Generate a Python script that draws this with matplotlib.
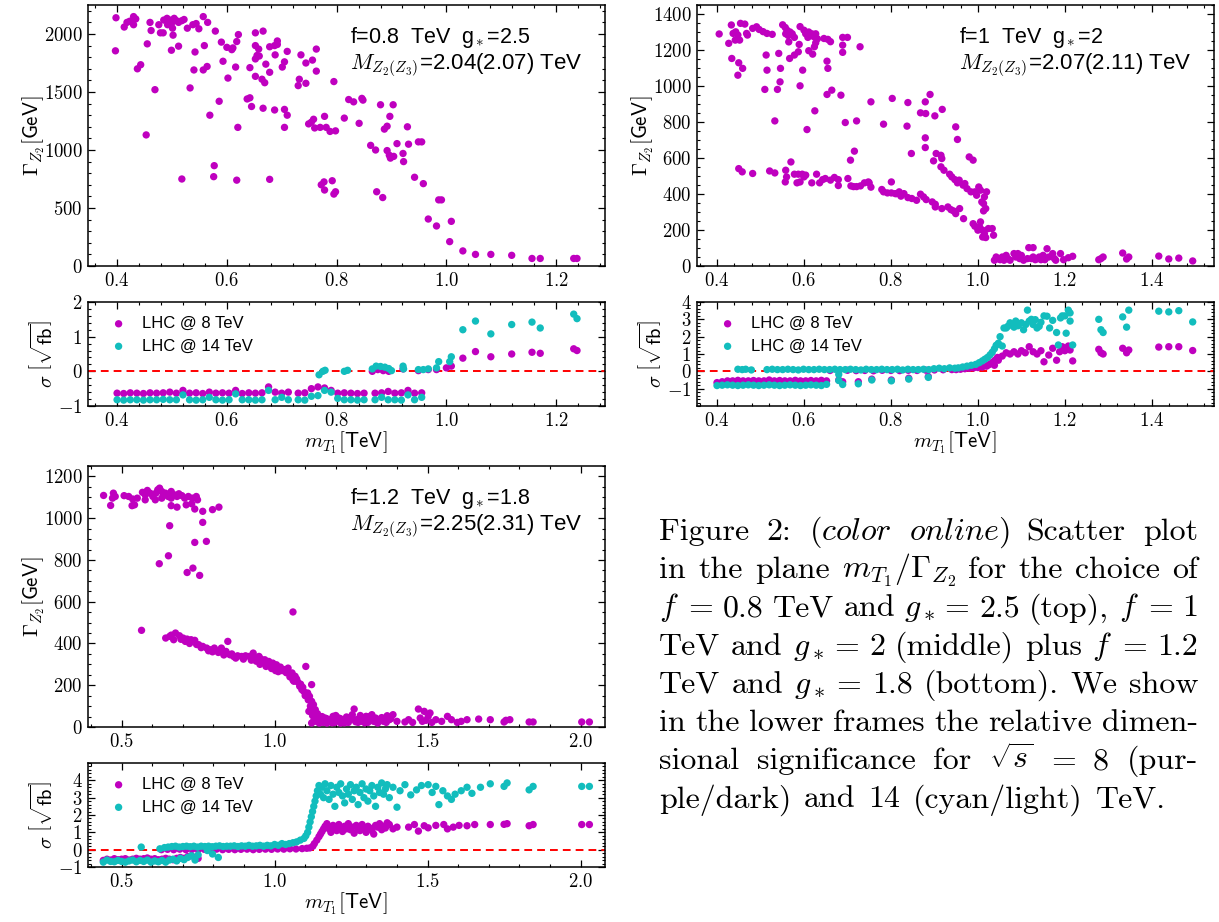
import numpy as np
import matplotlib
matplotlib.use("Agg")
import matplotlib.pyplot as plt
from matplotlib.ticker import MultipleLocator, FixedLocator, FuncFormatter

plt.rcParams['font.family'] = 'cmr10'
plt.rcParams['mathtext.fontset'] = 'cm'
plt.rcParams['axes.formatter.use_mathtext'] = True

PURPLE = '#bf00bf'
CYAN = '#12bdbd'
SANS = 'Liberation Sans'

# ---------------- data: (m_T1 [TeV], value) ----------------
# top left: f=0.8 TeV, g*=2.5
p1_width = [
    (0.398, 2140), (0.397, 1855), (0.413, 2060), (0.418, 2100), (0.423, 2110), (0.430, 2150), (0.434, 2130), (0.430, 2080),
    (0.437, 1700), (0.443, 1735), (0.455, 1915), (0.460, 2100), (0.462, 2030), (0.453, 1130), (0.469, 1520), (0.476, 2080),
    (0.479, 2010), (0.485, 2120), (0.491, 2135), (0.496, 2120), (0.499, 2090), (0.504, 2135), (0.508, 2115), (0.512, 2100),
    (0.492, 2080), (0.501, 2050), (0.518, 2115), (0.522, 2125), (0.484, 2010), (0.502, 1990), (0.499, 1860), (0.512, 1895),
    (0.518, 750), (0.528, 2050), (0.538, 2080), (0.544, 2090), (0.549, 2045), (0.533, 1535), (0.540, 1690), (0.542, 1845),
    (0.557, 2150), (0.565, 2100), (0.559, 1900), (0.557, 1690), (0.564, 1720), (0.569, 1300), (0.579, 2025), (0.577, 865),
    (0.576, 770), (0.586, 1420), (0.590, 1930), (0.593, 1765), (0.600, 1885), (0.611, 1880), (0.618, 1935), (0.621, 1995),
    (0.609, 1865), (0.602, 1620), (0.616, 1715), (0.618, 740), (0.620, 1195), (0.642, 1710), (0.637, 1440), (0.642, 1450),
    (0.645, 1375), (0.652, 2010), (0.652, 1900), (0.655, 1815), (0.652, 1785), (0.659, 1810), (0.652, 1635), (0.658, 1870),
    (0.664, 1610), (0.669, 1580), (0.666, 1360), (0.666, 2025), (0.671, 1740), (0.678, 1670), (0.678, 1890), (0.687, 1900),
    (0.692, 1940), (0.692, 1910), (0.688, 1820), (0.687, 1345), (0.678, 747), (0.701, 1715), (0.705, 1760), (0.705, 1350),
    (0.710, 1300), (0.705, 1195), (0.710, 1850), (0.730, 1555), (0.732, 1610), (0.735, 1820), (0.744, 1750), (0.744, 1575),
    (0.756, 1775), (0.763, 1870), (0.763, 1680), (0.749, 1225), (0.754, 1240), (0.760, 1190), (0.758, 1265), (0.770, 1195),
    (0.778, 1290), (0.781, 1195), (0.788, 1160), (0.798, 1165), (0.795, 1590), (0.772, 700), (0.777, 725), (0.778, 655),
    (0.792, 735), (0.795, 620), (0.798, 640), (0.814, 1275), (0.822, 1435), (0.831, 1415), (0.846, 1445), (0.848, 1430),
    (0.841, 1230), (0.862, 1040), (0.871, 1000), (0.880, 1390), (0.873, 640), (0.884, 590), (0.887, 1180), (0.892, 1205),
    (0.897, 1290), (0.903, 1390), (0.892, 995), (0.896, 955), (0.898, 930), (0.904, 945), (0.910, 1055), (0.921, 970),
    (0.922, 900), (0.929, 1200), (0.931, 1050), (0.942, 765), (0.949, 1070), (0.955, 1070), (0.958, 710), (0.967, 405),
    (0.982, 345), (0.986, 570), (0.991, 570), (1.009, 385), (1.006, 210), (1.030, 130), (1.053, 100), (1.081, 100),
    (1.119, 92), (1.156, 65), (1.171, 65), (1.232, 65), (1.238, 65),
]
p1_sig8 = [
    (0.400, -0.63), (0.412, -0.64), (0.424, -0.62), (0.436, -0.63), (0.448, -0.64), (0.460, -0.62), (0.472, -0.63),
    (0.484, -0.62), (0.496, -0.60), (0.508, -0.63), (0.520, -0.55), (0.532, -0.63), (0.544, -0.62), (0.556, -0.64),
    (0.568, -0.60), (0.580, -0.63), (0.592, -0.62), (0.604, -0.63), (0.616, -0.55), (0.628, -0.64), (0.640, -0.62),
    (0.652, -0.63), (0.664, -0.62), (0.676, -0.45), (0.688, -0.60), (0.700, -0.63), (0.712, -0.60),
    (0.730, -0.63), (0.742, -0.62), (0.754, -0.50), (0.766, -0.45), (0.778, -0.48), (0.790, -0.55), (0.802, -0.63),
    (0.814, -0.62), (0.826, -0.63), (0.838, -0.64), (0.850, -0.63),
    (0.870, -0.63), (0.882, -0.62), (0.894, -0.58), (0.906, -0.63), (0.918, -0.62), (0.930, -0.55), (0.942, -0.63),
    (0.955, -0.62),
    (0.865, 0.00), (0.875, 0.05), (0.885, 0.02), (0.895, 0.00), (0.921, 0.07), (0.949, 0.02), (0.967, 0.05),
    (0.982, 0.05), (1.000, 0.10), (1.009, 0.15),
    (1.030, 0.38), (1.053, 0.57), (1.081, 0.42), (1.119, 0.50), (1.156, 0.55), (1.171, 0.52), (1.232, 0.65), (1.238, 0.60),
]
p1_sig14 = [
    (0.400, -0.82), (0.412, -0.83), (0.424, -0.82), (0.436, -0.82), (0.448, -0.83), (0.460, -0.82), (0.472, -0.82),
    (0.484, -0.81), (0.496, -0.82), (0.508, -0.82), (0.520, -0.68), (0.532, -0.82), (0.544, -0.83), (0.556, -0.82),
    (0.568, -0.75), (0.580, -0.82), (0.592, -0.83), (0.604, -0.82), (0.616, -0.65), (0.628, -0.82), (0.640, -0.82),
    (0.652, -0.83), (0.664, -0.82), (0.676, -0.55), (0.688, -0.82), (0.700, -0.75), (0.712, -0.82),
    (0.730, -0.82), (0.742, -0.83), (0.754, -0.72), (0.766, -0.70), (0.778, -0.55), (0.790, -0.60), (0.802, -0.78),
    (0.814, -0.82), (0.826, -0.82), (0.838, -0.83), (0.850, -0.82),
    (0.870, -0.82), (0.882, -0.75), (0.894, -0.82), (0.906, -0.82), (0.918, -0.83), (0.930, -0.68), (0.942, -0.82),
    (0.955, -0.75),
    (0.768, -0.10), (0.775, 0.00), (0.779, 0.03), (0.814, 0.00), (0.820, 0.03), (0.865, 0.07), (0.872, 0.15),
    (0.880, 0.14), (0.888, 0.12), (0.895, 0.08), (0.900, 0.02), (0.921, 0.15), (0.922, 0.07), (0.949, 0.05),
    (0.958, 0.05), (0.967, 0.07), (0.982, 0.10), (0.986, 0.28), (1.006, 0.28), (1.009, 0.42),
    (1.030, 1.20), (1.053, 1.45), (1.081, 1.08), (1.119, 1.35), (1.156, 1.42), (1.171, 1.25), (1.232, 1.65), (1.238, 1.52),
]

# top right: f=1 TeV, g*=2
p2_width = [
    (0.405, 1289), (0.427, 1237), (0.433, 1339), (0.437, 1292), (0.443, 1301), (0.442, 1255), (0.434, 1153), (0.448, 1283),
    (0.454, 1348), (0.464, 1344), (0.452, 1255), (0.450, 1129), (0.459, 1098), (0.448, 1060), (0.468, 1292), (0.470, 1283),
    (0.482, 1320), (0.491, 1329), (0.497, 1314), (0.506, 1302), (0.515, 1292), (0.527, 1287), (0.510, 981), (0.515, 1088),
    (0.513, 1172), (0.542, 1181), (0.546, 1098), (0.539, 981), (0.545, 1023), (0.533, 806),
    (0.551, 1340), (0.557, 1325), (0.561, 1310), (0.558, 1290), (0.564, 1280), (0.568, 1300), (0.573, 1290), (0.565, 1245),
    (0.578, 1270), (0.567, 1153), (0.578, 1172), (0.587, 1190), (0.589, 1231), (0.591, 1330), (0.600, 1310), (0.604, 1290),
    (0.611, 1300), (0.618, 1290), (0.622, 1275), (0.627, 1290), (0.631, 1262), (0.609, 1270), (0.627, 1240), (0.597, 1088),
    (0.591, 1001), (0.611, 1196), (0.620, 1177), (0.624, 1218), (0.625, 862), (0.607, 758), (0.646, 1264), (0.655, 1259),
    (0.661, 1246), (0.653, 1138), (0.655, 1098), (0.653, 953), (0.664, 977), (0.685, 949), (0.689, 1270), (0.700, 1270),
    (0.689, 1227), (0.689, 1187), (0.695, 797), (0.721, 806), (0.729, 1218), (0.716, 638), (0.707, 588), (0.754, 912),
    (0.803, 931), (0.839, 908), (0.837, 777), (0.783, 788), (0.847, 625), (0.879, 912), (0.890, 953), (0.880, 847),
    (0.901, 834), (0.918, 870), (0.868, 851), (0.879, 712), (0.879, 658), (0.949, 773), (0.953, 703), (0.904, 625),
    (0.915, 615), (0.917, 597), (0.898, 584), (0.980, 606), (0.989, 588),
    (0.450, 541), (0.458, 523), (0.482, 514), (0.521, 528), (0.533, 517), (0.558, 532), (0.560, 495), (0.557, 467),
    (0.570, 578), (0.578, 510), (0.587, 510), (0.596, 510), (0.600, 495), (0.584, 462), (0.591, 467), (0.604, 505),
    (0.618, 462), (0.629, 510), (0.636, 462), (0.643, 480), (0.649, 486), (0.661, 477), (0.670, 492), (0.679, 480),
    (0.679, 447), (0.701, 486), (0.708, 445), (0.714, 441), (0.721, 441), (0.730, 445), (0.739, 462), (0.748, 467),
    (0.754, 438), (0.750, 462), (0.779, 425), (0.783, 412), (0.792, 406), (0.801, 406), (0.810, 402), (0.819, 412),
    (0.801, 467), (0.813, 402), (0.823, 388), (0.830, 402), (0.839, 380), (0.848, 375), (0.859, 365), (0.868, 399),
    (0.875, 384), (0.881, 369), (0.895, 356), (0.902, 343), (0.902, 328), (0.917, 319), (0.931, 328), (0.938, 313),
    (0.944, 306), (0.949, 291), (0.958, 319), (0.967, 263), (0.989, 235), (0.993, 221), (1.000, 199), (1.004, 217),
    (1.011, 199), (1.006, 245), (1.015, 180), (1.018, 158), (1.011, 161), (1.024, 208), (1.033, 208), (1.036, 171),
    (0.915, 551), (0.922, 532), (0.935, 510), (0.940, 495), (0.947, 480), (0.953, 462), (0.957, 477), (0.966, 449),
    (0.970, 458), (0.975, 430), (0.984, 412), (0.993, 412), (0.997, 393), (1.002, 439), (1.006, 421), (1.015, 384),
    (1.020, 412), (1.009, 356), (1.013, 347), (1.018, 319), (1.013, 306),
    (1.038, 32), (1.042, 50), (1.045, 41), (1.051, 35), (1.056, 50), (1.060, 32), (1.065, 59), (1.069, 41),
    (1.074, 32), (1.083, 69), (1.087, 50), (1.092, 69), (1.096, 41), (1.100, 59), (1.105, 32), (1.114, 41),
    (1.117, 102), (1.123, 41), (1.127, 50), (1.132, 35), (1.136, 41), (1.141, 50), (1.145, 35), (1.127, 102),
    (1.150, 59), (1.154, 35), (1.159, 96), (1.163, 50), (1.172, 69), (1.176, 41), (1.179, 32), (1.190, 69),
    (1.197, 35), (1.208, 46), (1.218, 54), (1.278, 35), (1.283, 41), (1.288, 50), (1.333, 72), (1.342, 39),
    (1.347, 50), (1.416, 55), (1.439, 39), (1.462, 44), (1.494, 28),
]
p2_sig8 = [
    (0.400, -0.65), (0.412, -0.60), (0.424, -0.55), (0.436, -0.55), (0.448, -0.52), (0.460, -0.55), (0.472, -0.55),
    (0.484, -0.53), (0.496, -0.55), (0.508, -0.55), (0.520, -0.50), (0.532, -0.55), (0.544, -0.53), (0.556, -0.55),
    (0.568, -0.55), (0.580, -0.52), (0.592, -0.55), (0.604, -0.55), (0.616, -0.53), (0.628, -0.55), (0.640, -0.52),
    (0.652, -0.55),
    (0.680, -0.50), (0.689, -0.60), (0.725, -0.60), (0.756, -0.45), (0.801, -0.50), (0.841, -0.40), (0.886, -0.30),
    (0.66, 0.05), (0.68, 0.03), (0.70, 0.06), (0.72, 0.04), (0.74, 0.05), (0.76, 0.03), (0.78, 0.06), (0.80, 0.05),
    (0.82, 0.04), (0.84, 0.06), (0.86, 0.05), (0.88, 0.07), (0.90, 0.08), (0.92, 0.09), (0.94, 0.10),
    (0.95, 0.10), (0.96, 0.12), (0.97, 0.15), (0.98, 0.18), (0.99, 0.20), (1.00, 0.22), (1.01, 0.25), (1.02, 0.30),
    (1.025, 0.38), (1.03, 0.45), (1.038, 0.35), (1.035, 0.55), (1.04, 0.65), (1.047, 0.64), (1.045, 0.80),
    (1.056, 0.88), (1.065, 1.07), (1.074, 1.00), (1.083, 1.13), (1.092, 1.00), (1.100, 1.19), (1.109, 1.07),
    (1.118, 1.42), (1.127, 1.13), (1.136, 1.00), (1.145, 1.19), (1.152, 0.55), (1.163, 0.94), (1.172, 1.33),
    (1.181, 0.64), (1.188, 1.13), (1.194, 1.42), (1.200, 1.19), (1.208, 1.46), (1.212, 1.23), (1.218, 0.60),
    (1.278, 1.27), (1.283, 1.07), (1.288, 1.00), (1.333, 1.33), (1.342, 1.07), (1.347, 1.23), (1.416, 1.40),
    (1.439, 1.42), (1.462, 1.42), (1.494, 1.20),
]
p2_sig14 = [
    (0.400, -0.82), (0.412, -0.80), (0.424, -0.78), (0.436, -0.80), (0.448, -0.82), (0.460, -0.80), (0.472, -0.78),
    (0.484, -0.80), (0.496, -0.82), (0.508, -0.80), (0.520, -0.78), (0.532, -0.80), (0.544, -0.82), (0.556, -0.80),
    (0.568, -0.78), (0.580, -0.80), (0.592, -0.82), (0.604, -0.80), (0.616, -0.78), (0.628, -0.80), (0.640, -0.82),
    (0.652, -0.75),
    (0.680, -0.53), (0.689, -0.76), (0.725, -0.72), (0.756, -0.50), (0.801, -0.55), (0.841, -0.45), (0.886, -0.35),
    (0.680, -0.18),
    (0.448, 0.12), (0.458, 0.10), (0.466, 0.12), (0.479, 0.08), (0.515, 0.10), (0.527, 0.12), (0.539, 0.10),
    (0.551, 0.10), (0.563, 0.12), (0.575, 0.10), (0.587, 0.08), (0.599, 0.12), (0.611, 0.10), (0.623, 0.10),
    (0.635, 0.12), (0.647, 0.10), (0.659, 0.10), (0.671, 0.12), (0.683, 0.10), (0.695, 0.10), (0.707, 0.12),
    (0.719, 0.10), (0.731, 0.08), (0.743, 0.12), (0.755, 0.10), (0.767, 0.10), (0.779, 0.12), (0.791, 0.10),
    (0.803, 0.10), (0.815, 0.12), (0.827, 0.08), (0.839, 0.12), (0.851, 0.10), (0.863, 0.10), (0.875, 0.12),
    (0.887, 0.10), (0.899, 0.15), (0.911, 0.18), (0.923, 0.15), (0.935, 0.20), (0.947, 0.18),
    (0.955, 0.20), (0.965, 0.25), (0.975, 0.30), (0.985, 0.35), (0.995, 0.40), (1.003, 0.50), (1.010, 0.60),
    (1.016, 0.70), (1.022, 0.80), (1.028, 0.95), (1.033, 1.10), (1.038, 1.30), (1.042, 1.50),
    (1.047, 1.62), (1.051, 2.00), (1.056, 1.46), (1.060, 2.50), (1.065, 2.50), (1.069, 2.60), (1.074, 2.80),
    (1.078, 2.70), (1.083, 2.55), (1.087, 2.90), (1.092, 2.63), (1.096, 2.75), (1.100, 2.80), (1.105, 2.40),
    (1.110, 2.70), (1.114, 3.53), (1.118, 2.90), (1.123, 3.00), (1.127, 2.70), (1.132, 2.98), (1.136, 2.50),
    (1.141, 2.60), (1.145, 2.83), (1.152, 3.20), (1.159, 3.18), (1.165, 2.50), (1.172, 2.94), (1.181, 2.24),
    (1.185, 1.52), (1.190, 3.08), (1.194, 3.20), (1.200, 3.20), (1.203, 2.20), (1.208, 3.53), (1.212, 3.37),
    (1.212, 2.90), (1.218, 1.52), (1.278, 3.00), (1.283, 2.40), (1.288, 2.24), (1.333, 3.14), (1.342, 2.55),
    (1.347, 3.53), (1.416, 3.47), (1.439, 3.43), (1.462, 3.50), (1.494, 2.85),
]

# bottom left: f=1.2 TeV, g*=1.8
p3_width = [
    (0.441, 1109), (0.464, 1061), (0.473, 1120), (0.479, 1104), (0.470, 1096), (0.508, 1108), (0.523, 1104), (0.536, 1092),
    (0.551, 1096), (0.534, 1060), (0.542, 1064), (0.568, 1124), (0.577, 1112), (0.584, 1133), (0.593, 1120), (0.602, 1104),
    (0.612, 1120), (0.618, 1136), (0.624, 1144), (0.631, 1128), (0.637, 1112), (0.643, 1120), (0.652, 1104), (0.662, 1128),
    (0.672, 1112), (0.681, 1104), (0.687, 1117), (0.697, 1108), (0.706, 1096), (0.718, 1104), (0.731, 1096), (0.744, 1104),
    (0.748, 1088), (0.577, 1088), (0.610, 1088), (0.631, 1096), (0.662, 1096), (0.662, 1060), (0.681, 1053), (0.729, 1069),
    (0.739, 1044), (0.765, 1033), (0.797, 1041), (0.818, 1053), (0.711, 1064), (0.657, 964), (0.765, 980), (0.739, 884),
    (0.777, 889), (0.653, 820), (0.623, 782), (0.733, 761), (0.714, 740), (0.755, 726), (1.060, 551), (0.565, 463),
    (0.644, 426), (0.657, 434), (0.676, 450), (0.670, 418), (0.689, 437), (0.701, 426), (0.714, 421), (0.727, 418),
    (0.739, 415), (0.752, 394), (0.765, 386), (0.778, 378), (0.790, 370), (0.803, 378), (0.816, 357), (0.826, 378),
    (0.841, 362), (0.847, 410), (0.854, 346), (0.866, 338), (0.879, 341), (0.892, 338), (0.905, 341), (0.917, 338),
    (0.930, 354), (0.936, 330), (0.943, 322), (0.949, 338), (0.955, 326), (0.962, 314), (0.968, 322), (0.981, 314),
    (0.994, 306), (1.000, 290), (1.006, 298), (1.019, 287), (1.032, 275), (1.044, 282), (1.057, 259), (1.063, 219),
    (1.067, 243), (1.072, 230), (1.082, 195), (1.089, 179), (1.095, 171), (1.102, 290), (1.108, 163), (1.114, 147),
    (1.121, 203), (1.121, 123), (1.127, 107), (1.133, 83), (1.140, 64), (1.146, 43),
    (0.662, 440), (0.694, 420), (0.708, 410), (0.722, 400), (0.745, 395), (0.760, 380), (0.784, 365), (0.797, 360),
    (0.821, 365), (0.834, 345), (0.860, 350), (0.873, 330), (0.898, 325), (0.924, 320), (0.940, 315), (0.952, 300),
    (0.972, 290), (0.985, 300), (0.990, 280), (1.003, 270), (1.012, 265), (1.025, 270), (1.038, 260), (1.050, 240),
    (1.060, 225), (1.076, 215), (1.085, 205), (1.092, 190), (1.100, 150), (1.110, 130), (1.117, 100), (1.130, 60),
    (1.124, 55), (1.112, 75), (1.136, 40), (1.118, 85),
    (1.121, 19), (1.127, 27), (1.136, 35), (1.146, 19), (1.152, 32), (1.159, 22), (1.165, 43), (1.171, 19),
    (1.178, 35), (1.184, 27), (1.191, 51), (1.197, 22), (1.203, 35), (1.210, 43), (1.216, 19), (1.222, 35),
    (1.229, 27), (1.235, 48), (1.241, 22), (1.248, 35), (1.254, 59), (1.260, 86), (1.267, 35), (1.273, 22),
    (1.279, 43), (1.286, 27), (1.292, 32), (1.299, 51), (1.305, 22), (1.311, 35), (1.318, 59), (1.324, 27),
    (1.330, 43), (1.337, 19), (1.343, 35), (1.356, 27), (1.362, 43), (1.368, 54), (1.375, 35), (1.387, 59),
    (1.400, 27), (1.426, 24), (1.438, 35), (1.451, 22), (1.470, 86), (1.476, 43), (1.483, 27), (1.489, 75),
    (1.495, 32), (1.502, 51), (1.508, 67), (1.514, 22), (1.527, 35), (1.546, 27), (1.565, 51), (1.578, 35),
    (1.597, 22), (1.610, 27), (1.629, 35), (1.667, 38), (1.705, 35), (1.750, 24), (1.756, 32), (1.769, 35),
    (1.832, 24), (1.845, 24), (2.004, 24), (2.029, 24),
    (1.130, 45), (1.140, 25), (1.155, 50), (1.170, 40), (1.188, 20), (1.200, 55), (1.215, 40), (1.228, 20),
    (1.245, 45), (1.265, 25), (1.280, 55), (1.295, 20), (1.310, 50), (1.330, 25), (1.350, 45), (1.365, 22),
    (1.380, 40),
]
p3_sig8 = [
    (0.440, -0.62), (0.452, -0.55), (0.464, -0.60), (0.476, -0.52), (0.488, -0.58), (0.500, -0.55), (0.512, -0.52),
    (0.524, -0.60), (0.536, -0.55), (0.548, -0.50), (0.560, -0.55), (0.572, -0.52), (0.584, -0.48), (0.596, -0.55),
    (0.608, -0.52), (0.620, -0.58), (0.632, -0.55), (0.644, -0.50), (0.656, -0.55), (0.668, -0.58), (0.680, -0.50),
    (0.692, -0.45), (0.704, -0.50), (0.716, -0.40), (0.728, -0.35), (0.740, -0.45), (0.750, -0.50),
    (0.630, 0.00), (0.650, 0.02), (0.670, 0.00), (0.690, 0.03), (0.710, 0.00), (0.730, 0.02), (0.750, 0.00),
    (0.770, 0.02), (0.790, 0.00), (0.810, 0.03), (0.830, 0.00), (0.850, 0.02), (0.870, 0.00), (0.890, 0.02),
    (0.910, 0.03), (0.930, 0.00), (0.950, 0.02), (0.970, 0.03), (0.990, 0.02), (1.010, 0.04), (1.030, 0.03),
    (1.050, 0.05), (1.070, 0.04), (1.090, 0.06), (1.105, 0.08),
    (1.115, 0.10), (1.125, 0.20), (1.130, 0.35), (1.138, 0.55), (1.145, 0.75), (1.150, 0.90), (1.155, 1.05),
    (1.160, 1.20), (1.165, 1.35),
    (1.171, 1.50), (1.178, 1.20), (1.184, 1.00), (1.191, 1.40), (1.197, 1.25), (1.203, 1.10), (1.210, 1.45),
    (1.216, 1.30), (1.222, 1.05), (1.229, 1.35), (1.235, 1.20), (1.241, 1.50), (1.248, 1.15), (1.254, 1.30),
    (1.260, 0.95), (1.267, 1.40), (1.273, 1.25), (1.279, 1.10), (1.286, 1.45), (1.292, 1.20), (1.299, 1.00),
    (1.305, 1.35), (1.311, 1.25), (1.318, 1.10), (1.324, 0.90), (1.330, 1.40), (1.337, 1.30), (1.343, 1.50),
    (1.350, 1.15), (1.356, 1.35), (1.362, 1.25), (1.368, 1.55), (1.375, 1.45), (1.387, 1.20), (1.400, 1.30),
    (1.438, 1.30), (1.457, 1.45), (1.470, 1.07), (1.489, 1.38), (1.502, 1.26), (1.527, 1.40), (1.553, 1.45),
    (1.565, 1.20), (1.584, 1.30), (1.603, 1.40), (1.629, 1.38), (1.654, 1.45), (1.705, 1.45), (1.750, 1.46),
    (1.760, 1.50), (1.832, 1.38), (1.845, 1.45), (2.004, 1.45), (2.029, 1.45),
]
p3_sig14 = [
    (0.440, -0.72), (0.452, -0.60), (0.464, -0.68), (0.476, -0.70), (0.488, -0.62), (0.500, -0.68), (0.512, -0.72),
    (0.524, -0.65), (0.536, -0.60), (0.548, -0.70), (0.560, -0.62), (0.572, -0.68), (0.584, -0.60), (0.596, -0.72),
    (0.608, -0.65), (0.620, -0.70), (0.632, -0.62), (0.644, -0.72), (0.656, -0.60), (0.668, -0.55), (0.680, -0.65),
    (0.692, -0.50), (0.704, -0.58), (0.716, -0.45), (0.728, -0.35), (0.740, -0.60), (0.750, -0.30),
    (0.564, 0.15), (0.625, 0.05), (0.780, -0.05), (0.797, -0.25), (0.816, -0.45),
    (0.640, 0.12), (0.652, 0.15), (0.664, 0.18), (0.676, 0.20), (0.688, 0.15), (0.700, 0.18), (0.712, 0.20),
    (0.724, 0.17), (0.736, 0.20), (0.748, 0.15), (0.760, 0.20), (0.772, 0.18), (0.784, 0.20), (0.796, 0.17),
    (0.808, 0.20), (0.820, 0.22), (0.832, 0.18), (0.844, 0.20), (0.856, 0.20), (0.868, 0.22), (0.880, 0.18),
    (0.892, 0.22), (0.904, 0.20), (0.916, 0.25), (0.928, 0.20), (0.940, 0.22), (0.952, 0.25), (0.964, 0.20),
    (0.976, 0.25), (0.988, 0.22), (1.000, 0.30), (1.012, 0.25), (1.024, 0.35), (1.036, 0.30), (1.048, 0.35),
    (1.060, 0.40), (1.072, 0.45), (1.084, 0.55), (1.096, 0.65),
    (1.102, 0.80), (1.108, 1.00), (1.112, 1.30), (1.116, 1.60), (1.120, 1.90), (1.124, 2.20), (1.128, 2.50),
    (1.132, 2.80), (1.136, 3.10), (1.140, 3.40), (1.145, 3.70),
    (1.150, 3.20), (1.155, 3.60), (1.160, 3.00), (1.165, 3.80), (1.171, 3.40), (1.178, 2.90), (1.184, 3.70),
    (1.191, 3.20), (1.197, 2.50), (1.203, 3.60), (1.210, 3.30), (1.216, 3.80), (1.222, 3.10), (1.229, 2.70),
    (1.235, 3.50), (1.241, 3.20), (1.248, 3.75), (1.254, 2.90), (1.260, 3.40), (1.267, 3.60), (1.273, 2.60),
    (1.279, 3.30), (1.286, 3.80), (1.292, 3.00), (1.299, 3.50), (1.305, 2.80), (1.311, 3.40), (1.318, 3.70),
    (1.324, 3.10), (1.330, 2.50), (1.337, 3.60), (1.343, 3.30), (1.350, 3.85), (1.356, 3.20), (1.362, 3.50),
    (1.368, 3.75), (1.375, 3.00), (1.387, 3.60), (1.400, 2.45), (1.410, 3.40),
    (1.426, 3.75), (1.445, 3.16), (1.464, 3.45), (1.480, 3.70), (1.502, 3.75), (1.515, 3.30), (1.527, 3.65),
    (1.537, 2.60), (1.550, 3.40), (1.565, 3.10), (1.578, 2.90), (1.590, 3.20), (1.610, 3.40), (1.629, 3.60),
    (1.645, 3.25), (1.673, 3.60), (1.705, 3.80), (1.750, 3.65), (1.760, 3.85), (1.832, 3.45), (1.845, 3.65),
    (2.004, 3.65), (2.029, 3.65),
]

panel_text = [
    (r'f=0.8  TeV  $\mathregular{g}_{\!*}$=2.5', r'$M_{Z_2(Z_3)}$=2.04(2.07) TeV'),
    (r'f=1  TeV  $\mathregular{g}_{\!*}$=2', r'$M_{Z_2(Z_3)}$=2.07(2.11) TeV'),
    (r'f=1.2  TeV  $\mathregular{g}_{\!*}$=1.8', r'$M_{Z_2(Z_3)}$=2.25(2.31) TeV'),
]

caption = [
    ['Figure', '2:', r'$(\mathit{color}$', r'$\mathit{online})$', 'Scatter', 'plot'],
    ['in', 'the', 'plane', r'$m_{T_1}/\Gamma_{Z_2}$', 'for', 'the', 'choice', 'of'],
    [r'$f$', '=', '0.8', 'TeV', 'and', r'$g_*$', '=', '2.5', '(top),', r'$f$', '=', '1'],
    ['TeV', 'and', r'$g_*$', '=', '2', '(middle)', 'plus', r'$f$', '=', '1.2'],
    ['TeV', 'and', r'$g_*$', '=', '1.8', '(bottom).', 'We', 'show'],
    ['in', 'the', 'lower', 'frames', 'the', 'relative', 'dimen-'],
    ['sional', 'significance', 'for', r'$\sqrt{s}$', '=', '8', '(pur-'],
    ['ple/dark)', 'and', '14', '(cyan/light)', 'TeV.'],
]

# ---------------- figure ----------------
W, H = 1219, 922
fig = plt.figure(figsize=(W / 100, H / 100), dpi=100)


def box(l, t, r, b):
    return [l / W, 1 - b / H, (r - l) / W, (b - t) / H]


def style(ax, xlim, xmaj, xmin, ylim, ymaj, ymin, yticks=None):
    ax.set_xlim(*xlim)
    ax.set_ylim(*ylim)
    ax.xaxis.set_major_locator(MultipleLocator(xmaj))
    ax.xaxis.set_minor_locator(MultipleLocator(xmin))
    if yticks is None:
        ax.yaxis.set_major_locator(MultipleLocator(ymaj))
    else:
        ax.yaxis.set_major_locator(FixedLocator(yticks))
    ax.yaxis.set_minor_locator(MultipleLocator(ymin))
    # computer-modern digits through mathtext
    ax.xaxis.set_major_formatter(FuncFormatter(lambda v, p: r'$%.1f$' % v))
    ax.yaxis.set_major_formatter(FuncFormatter(lambda v, p: r'$%d$' % round(v)))
    ax.tick_params(which='both', direction='in', top=True, right=True, labelsize=13.5, pad=4)
    ax.tick_params(which='major', length=5, width=0.9)
    ax.tick_params(which='minor', length=2.5, width=0.8)
    for s in ax.spines.values():
        s.set_linewidth(1.1)


def xy(pts):
    a = np.array(pts, dtype=float)
    return a[:, 0], a[:, 1]


def main_panel(rect, pts, xlim, xmaj, xmin, ylim, ymaj, ymin, texts):
    ax = fig.add_axes(rect)
    x, y = xy(pts)
    ax.scatter(x, y, s=28, c=PURPLE, edgecolors='none', zorder=3)
    style(ax, xlim, xmaj, xmin, ylim, ymaj, ymin)
    ax.set_ylabel(r'$\Gamma_{Z_2}\left[\mathsf{GeV}^{\,}_{\,}\!\right]$', fontsize=15)
    ax.yaxis.set_label_coords(-0.08, 0.5)
    ax.text(0.507, 0.877, texts[0], transform=ax.transAxes, family=SANS, fontsize=15.5, va='center')
    ax.text(0.507, 0.77, texts[1], transform=ax.transAxes, family=SANS, fontsize=16, va='center')
    return ax


def sig_panel(rect, pts8, pts14, xlim, xmaj, xmin, ylim, yticks):
    ax = fig.add_axes(rect)
    ax.axhline(0, color='red', lw=1.4, ls=(0, (4, 2.6)), zorder=2)
    x8, y8 = xy(pts8)
    x14, y14 = xy(pts14)
    h8 = ax.scatter(x8, y8, s=28, c=PURPLE, edgecolors='none', zorder=3, label='LHC @ 8 TeV')
    h14 = ax.scatter(x14, y14, s=28, c=CYAN, edgecolors='none', zorder=4, label='LHC @ 14 TeV')
    style(ax, xlim, xmaj, xmin, ylim, 1, 0.2, yticks)
    ax.set_ylabel(r'$\sigma\ \left[\sqrt{\mathsf{fb}}\right]$', fontsize=14.5)
    ax.yaxis.set_label_coords(-0.06, 0.5)
    ax.set_xlabel(r'$m_{T_1}\left[\mathsf{TeV}^{\,}_{\,}\!\right]$', fontsize=15)
    ax.xaxis.set_label_coords(0.5, -0.22)
    ax.legend(handles=[h8, h14], loc='upper left', bbox_to_anchor=(0.006, 1.0), frameon=False,
              prop={'family': SANS, 'size': 12}, handletextpad=0.6, labelspacing=0.45,
              borderaxespad=0.45, scatterpoints=1, handlelength=1.6)
    return ax


main_panel(box(88, 5, 605, 266), p1_width, (0.347, 1.289), 0.2, 0.04, (0, 2250), 500, 100, panel_text[0])
sig_panel(box(88, 302, 605, 406), p1_sig8, p1_sig14, (0.347, 1.289), 0.2, 0.04, (-1, 2), [-1, 0, 1, 2])

main_panel(box(697, 5, 1214, 266), p2_width, (0.354, 1.543), 0.2, 0.04, (0, 1450), 200, 50, panel_text[1])
sig_panel(box(697, 302, 1214, 406), p2_sig8, p2_sig14, (0.354, 1.543), 0.2, 0.04, (-2, 4), [-1, 0, 1, 2, 3, 4])

main_panel(box(88, 466, 605, 727), p3_width, (0.39, 2.08), 0.5, 0.1, (0, 1250), 200, 50, panel_text[2])
sig_panel(box(88, 763, 605, 867), p3_sig8, p3_sig14, (0.39, 2.08), 0.5, 0.1, (-1, 5), [-1, 0, 1, 2, 3, 4])

# caption, justified line by line
CAP_X0, CAP_X1, CAP_FS = 659, 1198, 23
renderer = fig.canvas.get_renderer()
for i, words in enumerate(caption):
    yb = 540 + i * 38.2
    arts = [fig.text(0, 1 - yb / H, w, fontsize=CAP_FS, va='baseline', ha='left') for w in words]
    widths = [a.get_window_extent(renderer).width for a in arts]
    if i < len(caption) - 1:
        gap = (CAP_X1 - CAP_X0 - sum(widths)) / (len(words) - 1)
    else:
        gap = 0.4 * CAP_FS * 100 / 72
    xpos = CAP_X0
    for a, w in zip(arts, widths):
        a.set_x(xpos / W)
        xpos += w + gap

fig.savefig('out.png', dpi=100)
